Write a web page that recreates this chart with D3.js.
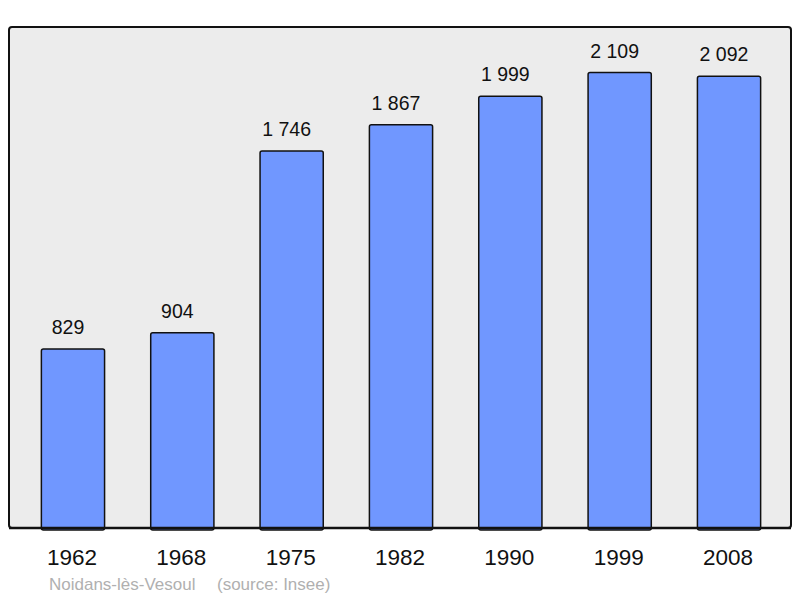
<!DOCTYPE html>
<html><head><meta charset="utf-8">
<script src="https://cdn.jsdelivr.net/npm/d3@7"></script>
<style>body{margin:0;background:#fff}svg{display:block}</style>
</head><body>
<svg id="c" width="800" height="598"></svg>
<script>
const years = ["1962","1968","1975","1982","1990","1999","2008"];
const population = [829, 904, 1746, 1867, 1999, 2109, 2092];
const commune = "Noidans-lès-Vesoul";
const source = "(source: Insee)";

const svg = d3.select("#c");
const font = "'Liberation Sans', Arial, sans-serif";
const plot = {x: 9, y: 27, w: 782, h: 501};

svg.append("rect").attr("x", plot.x).attr("y", plot.y).attr("width", plot.w).attr("height", plot.h)
  .attr("rx", 3).attr("fill", "#ececec").attr("stroke", "#111").attr("stroke-width", 2);

const x = d3.scaleBand().domain(years).range([18.3, 783.7]).paddingInner(0.422).paddingOuter(0.211);
const y = d3.scaleLinear().domain([0, 2320]).range([plot.y + plot.h, plot.y]);

svg.selectAll("rect.bar").data(years).join("rect").attr("class", "bar")
  .attr("x", d => x(d)).attr("width", x.bandwidth())
  .attr("y", (d, i) => y(population[i])).attr("height", (d, i) => y(0) - y(population[i]) + 2)
  .attr("rx", 2).attr("fill", "#7097ff").attr("stroke", "#111").attr("stroke-width", 1.5);

// bottom axis line
svg.append("line").attr("x1", plot.x).attr("x2", plot.x + plot.w).attr("y1", y(0)).attr("y2", y(0))
  .attr("stroke", "#111").attr("stroke-width", 2.5);

svg.selectAll("text.val").data(years).join("text").attr("class", "val")
  .attr("x", d => x(d) + x.bandwidth() / 2 - 5).attr("y", (d, i) => y(population[i]) - 15)
  .attr("text-anchor", "middle").attr("font-family", font).attr("font-size", 19.5).attr("fill", "#111")
  .text((d, i) => d3.format(",")(population[i]).replace(",", " "));

const xAxis = svg.append("g").attr("transform", `translate(-1,${y(0)})`)
  .call(d3.axisBottom(x).tickSize(0).tickPadding(0));
xAxis.select(".domain").remove();
xAxis.selectAll("text").attr("y", 37).attr("dy", 0).attr("font-family", font).attr("font-size", 22.5).attr("fill", "#111");

svg.append("text").attr("x", 49).attr("y", 590).attr("font-family", font).attr("font-size", 17).attr("fill", "#b0b0b0").text(commune);
svg.append("text").attr("x", 217).attr("y", 590).attr("font-family", font).attr("font-size", 17).attr("fill", "#b0b0b0").text(source);
</script>
</body></html>
